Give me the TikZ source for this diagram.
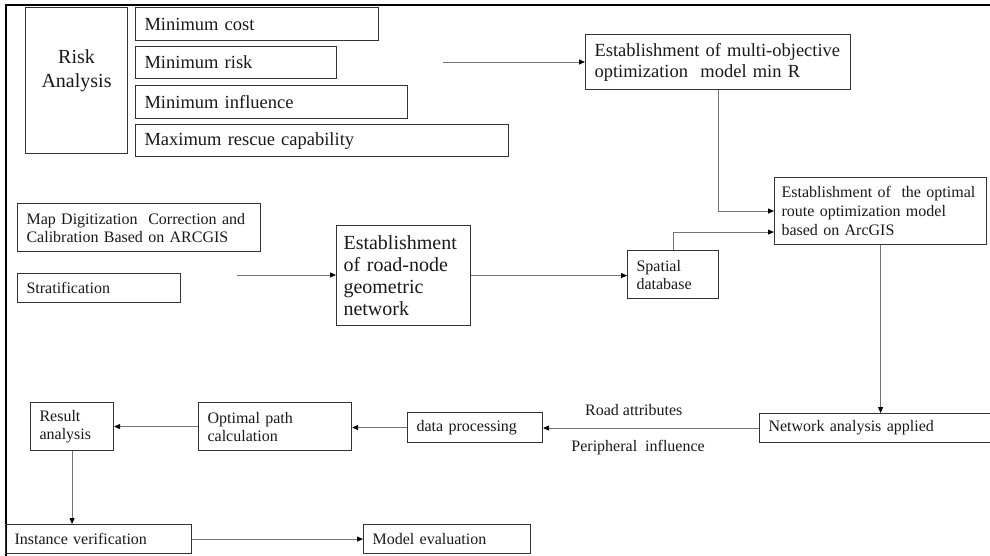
\documentclass[tikz,border=0pt]{standalone}
\usepackage{fontspec}
\setmainfont{Liberation Serif}
\usetikzlibrary{arrows.meta, positioning}

\begin{document}
\begin{tikzpicture}[
    x=1pt, y=-1pt,
    box/.style={draw=black!80, line width=1.1pt, inner xsep=9pt, inner ysep=0pt,
                anchor=north west, align=left, text=black!90,
                font=\fontsize{16}{18}\selectfont},
    bigbox/.style={box, font=\fontsize{18.5}{21}\selectfont},
    link/.style={draw=black!55, line width=0.8pt,
                 -{Triangle[length=6pt, width=5pt, color=black]}},
    lbl/.style={font=\fontsize{16}{18}\selectfont, text=black!90, inner sep=2pt}
  ]
  \useasboundingbox (0,0) rectangle (990,555);
  % outer frame
  \draw[line width=2pt] (6,562) -- (6,5) -- (996,5);

  % objectives
  \node[box, minimum width=102pt, minimum height=146pt, text width=84pt,
        align=center, font=\fontsize{20}{24}\selectfont] (risk) at (25,7)
    {Risk\\Analysis\\~};
  \node[bigbox, minimum width=243pt, minimum height=33pt, text width=225pt]
    (mincost) at (135,7) {Minimum cost};
  \node[bigbox, below right=5pt and 0pt of mincost.south west,
        minimum width=201pt, minimum height=32pt, text width=183pt]
    (minrisk) {Minimum risk};
  \node[bigbox, below right=6pt and 0pt of minrisk.south west,
        minimum width=272pt, minimum height=33pt, text width=254pt]
    (mininfl) {Minimum influence};
  \node[bigbox, below right=5pt and 0pt of mininfl.south west,
        minimum width=373pt, minimum height=32pt, text width=355pt]
    (maxresc) {Maximum rescue capability};

  \node[bigbox, minimum width=265pt, minimum height=55pt, text width=247pt]
    (multi) at (585,34)
    {Establishment of multi-objective\\optimization\ \ model min R};
  \node[box, minimum width=212pt, minimum height=67pt, text width=198pt,
        inner xsep=7pt, font=\fontsize{16}{19}\selectfont] (optroute) at (774,177)
    {Establishment of\ \ the optimal\\route optimization model\\based on ArcGIS};

  % map preparation
  \node[box, minimum width=243pt, minimum height=48pt, text width=225pt]
    (mapdig) at (17,203)
    {Map Digitization\ \ Correction and\\Calibration Based on ARCGIS};
  \node[box, minimum width=163pt, minimum height=29pt, text width=145pt]
    (strat) at (17,273) {Stratification};
  \node[box, minimum width=134pt, minimum height=100pt, text width=120pt,
        inner xsep=7pt, font=\fontsize{20}{22}\selectfont] (roadnode) at (336,225)
    {Establishment\\of road-node\\geometric\\network};
  \node[box, minimum width=91pt, minimum height=48pt, text width=73pt]
    (spatial) at (627,250) {Spatial\\database};

  % analysis chain
  \node[box, minimum width=240pt, minimum height=29pt, text width=222pt]
    (network) at (759,413) {Network analysis applied};
  \node[box, minimum width=135pt, minimum height=30pt, text width=117pt]
    (dataproc) at (407,412) {data processing};
  \node[box, minimum width=153pt, minimum height=48pt, text width=135pt]
    (optpath) at (198,402) {Optimal path\\calculation};
  \node[box, minimum width=83pt, minimum height=48pt, text width=65pt]
    (result) at (30,402) {Result\\analysis};
  \node[box, minimum width=186pt, minimum height=29pt, text width=168pt]
    (instance) at (5,524) {Instance verification};
  \node[box, minimum width=167pt, minimum height=29pt, text width=149pt]
    (modeleval) at (363,524) {Model evaluation};

  % connectors
  \coordinate (riskout) at (443,62);
  \coordinate (stratout) at (237,275);
  \draw[link] (riskout) -- (riskout -| multi.west);
  \draw[link] (multi.south) |- (optroute.west);
  \draw[link] (spatial.north) |- ([yshift=-21pt]optroute.west);
  \draw[link] (stratout) -- (stratout -| roadnode.west);
  \draw[link] (roadnode.east) -- (roadnode.east -| spatial.west);
  \draw[link] (optroute.south) -- (optroute.south |- network.north);
  \draw[link] (network.west) --
    node[lbl, pos=0.58, above=10pt] {Road attributes}
    node[lbl, pos=0.56, below=10pt] {Peripheral\ \ influence}
    (network.west -| dataproc.east);
  \draw[link] (dataproc.west) -- (dataproc.west -| optpath.east);
  \draw[link] (optpath.west) -- (optpath.west -| result.east);
  \draw[link] (result.south) -- (result.south |- instance.north);
  \draw[link] (instance.east) -- (instance.east -| modeleval.west);
\end{tikzpicture}
\end{document}
